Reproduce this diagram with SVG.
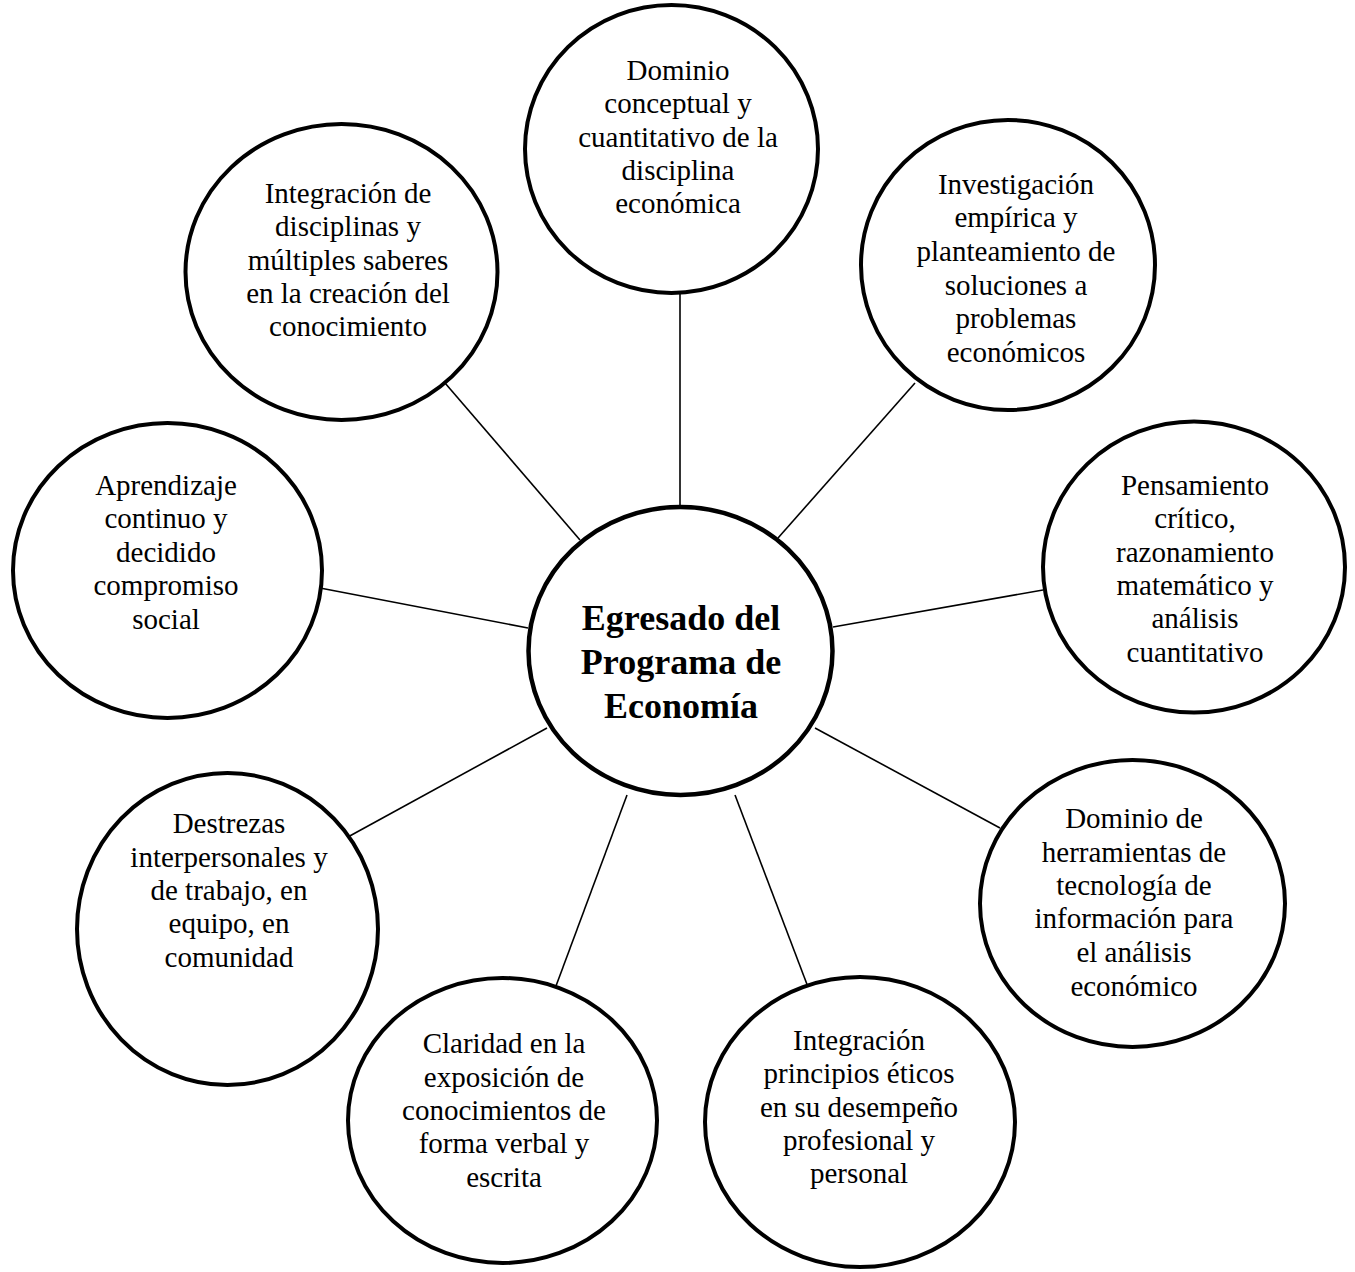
<svg xmlns="http://www.w3.org/2000/svg" width="1355" height="1272" viewBox="0 0 1355 1272">
<style>
.bg{fill:#fff}
.node{fill:#fff;stroke:#000;stroke-width:4}
.hub{fill:#fff;stroke:#000;stroke-width:4.5}
.edge{stroke:#000;stroke-width:1.6;fill:none}
.t{font-family:"Liberation Serif","Times New Roman",serif;font-size:29px;fill:#000;text-anchor:middle}
.ht{font-family:"Liberation Serif","Times New Roman",serif;font-size:36px;font-weight:bold;fill:#000;text-anchor:middle}
</style>
<rect class="bg" x="0" y="0" width="1355" height="1272"/>
<g id="connectors">
<line class="edge" x1="680" y1="293" x2="680" y2="507"/>
<line class="edge" x1="445" y1="383" x2="580" y2="540"/>
<line class="edge" x1="915" y1="383" x2="778" y2="538"/>
<line class="edge" x1="320" y1="588" x2="528" y2="628"/>
<line class="edge" x1="833" y1="627" x2="1043" y2="590"/>
<line class="edge" x1="547" y1="728" x2="348.8" y2="836.5"/>
<line class="edge" x1="815" y1="728" x2="1000" y2="828"/>
<line class="edge" x1="627" y1="795" x2="556" y2="986"/>
<line class="edge" x1="735" y1="795" x2="808" y2="987"/>
</g>
<g id="hub">
<ellipse class="hub" cx="680.5" cy="651" rx="152" ry="144"/>
<text class="ht" x="681" y="630">Egresado del</text>
<text class="ht" x="681" y="674">Programa de</text>
<text class="ht" x="681" y="718">Economía</text>
</g>
<g id="n-dominio-conceptual">
<ellipse class="node" cx="671.5" cy="149" rx="146.5" ry="144"/>
<text class="t" x="678" y="80">Dominio</text>
<text class="t" x="678" y="113">conceptual y</text>
<text class="t" x="678" y="147">cuantitativo de la</text>
<text class="t" x="678" y="180">disciplina</text>
<text class="t" x="678" y="213">económica</text>
</g>
<g id="n-investigacion">
<ellipse class="node" cx="1008" cy="265" rx="147" ry="145"/>
<text class="t" x="1016" y="194">Investigación</text>
<text class="t" x="1016" y="227">empírica y</text>
<text class="t" x="1016" y="261">planteamiento de</text>
<text class="t" x="1016" y="295">soluciones a</text>
<text class="t" x="1016" y="328">problemas</text>
<text class="t" x="1016" y="362">económicos</text>
</g>
<g id="n-integracion-disciplinas">
<ellipse class="node" cx="341.5" cy="272" rx="156" ry="148"/>
<text class="t" x="348" y="203">Integración de</text>
<text class="t" x="348" y="236">disciplinas y</text>
<text class="t" x="348" y="270">múltiples saberes</text>
<text class="t" x="348" y="303">en la creación del</text>
<text class="t" x="348" y="336">conocimiento</text>
</g>
<g id="n-aprendizaje">
<ellipse class="node" cx="167.5" cy="570.5" rx="154.5" ry="147.5"/>
<text class="t" x="166" y="495">Aprendizaje</text>
<text class="t" x="166" y="528">continuo y</text>
<text class="t" x="166" y="562">decidido</text>
<text class="t" x="166" y="595">compromiso</text>
<text class="t" x="166" y="629">social</text>
</g>
<g id="n-pensamiento">
<ellipse class="node" cx="1194" cy="567" rx="151" ry="145.5"/>
<text class="t" x="1195" y="495">Pensamiento</text>
<text class="t" x="1195" y="528">crítico,</text>
<text class="t" x="1195" y="562">razonamiento</text>
<text class="t" x="1195" y="595">matemático y</text>
<text class="t" x="1195" y="628">análisis</text>
<text class="t" x="1195" y="662">cuantitativo</text>
</g>
<g id="n-destrezas">
<ellipse class="node" cx="227.5" cy="929" rx="150.5" ry="156"/>
<text class="t" x="229" y="833">Destrezas</text>
<text class="t" x="229" y="867">interpersonales y</text>
<text class="t" x="229" y="900">de trabajo, en</text>
<text class="t" x="229" y="933">equipo, en</text>
<text class="t" x="229" y="967">comunidad</text>
</g>
<g id="n-herramientas">
<ellipse class="node" cx="1132.5" cy="903.5" rx="152.5" ry="143.5"/>
<text class="t" x="1134" y="828">Dominio de</text>
<text class="t" x="1134" y="862">herramientas de</text>
<text class="t" x="1134" y="895">tecnología de</text>
<text class="t" x="1134" y="928">información para</text>
<text class="t" x="1134" y="962">el análisis</text>
<text class="t" x="1134" y="996">económico</text>
</g>
<g id="n-claridad">
<ellipse class="node" cx="502.5" cy="1120.5" rx="154.5" ry="142.5"/>
<text class="t" x="504" y="1053">Claridad en la</text>
<text class="t" x="504" y="1087">exposición de</text>
<text class="t" x="504" y="1120">conocimientos de</text>
<text class="t" x="504" y="1153">forma verbal y</text>
<text class="t" x="504" y="1187">escrita</text>
</g>
<g id="n-etica">
<ellipse class="node" cx="860" cy="1122" rx="155" ry="145"/>
<text class="t" x="859" y="1050">Integración</text>
<text class="t" x="859" y="1083">principios éticos</text>
<text class="t" x="859" y="1117">en su desempeño</text>
<text class="t" x="859" y="1150">profesional y</text>
<text class="t" x="859" y="1183">personal</text>
</g>
</svg>
